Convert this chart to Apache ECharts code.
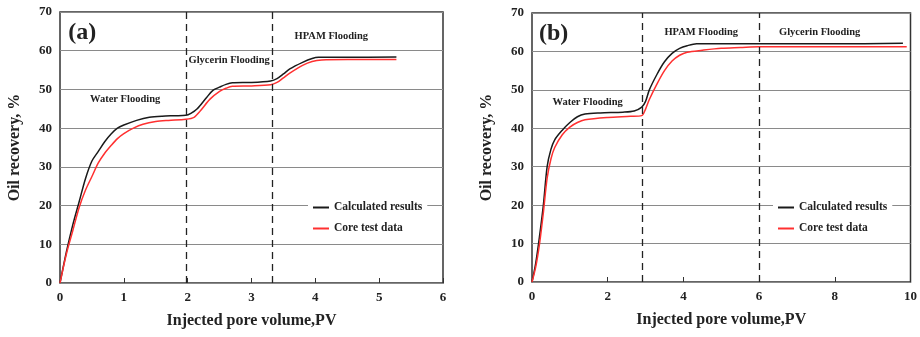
<!DOCTYPE html>
<html><head><meta charset="utf-8">
<script src="https://cdn.jsdelivr.net/npm/echarts@6/dist/echarts.min.js"></script>
<style>html,body{margin:0;padding:0;background:#fff}#c{width:920px;height:337px}</style>
</head><body><div id="c"></div>
<script>
// Panel (a)
var aCalcX = [0,0.1,0.2,0.3,0.4,0.5,0.6,0.7,0.8,0.9,1.0,1.2,1.4,1.6,1.8,1.97,2.05,2.15,2.3,2.4,2.5,2.6,2.7,3.0,3.3,3.4,3.5,3.6,3.8,3.95,4.05,4.5,5.27];
var aCalcY = [0,8,15,21,27,31.5,34,36.5,38.5,40,40.8,42,42.8,43.1,43.2,43.3,43.8,45,48,49.8,50.6,51.3,51.7,51.8,52.2,52.8,54,55.3,57,58,58.3,58.3,58.4];
var aCoreX = [0,0.1,0.2,0.3,0.4,0.5,0.6,0.7,0.8,0.9,1.0,1.15,1.3,1.5,1.7,1.97,2.1,2.2,2.35,2.5,2.6,2.7,3.0,3.3,3.4,3.5,3.6,3.8,3.95,4.1,4.5,5.27];
var aCoreY = [0,7.5,13.5,19.5,24,27.5,31,33.5,35.5,37.3,38.6,40,41,41.7,42,42.3,42.8,44.5,47.5,49.5,50.3,50.8,50.9,51.2,51.8,53,54.2,56.2,57.2,57.6,57.7,57.7];
var aStages = [1.97, 3.33];
var aTicks = {min:0, max:6, interval:1};
// Panel (b)
var bCalcX = [0,0.1,0.2,0.3,0.4,0.5,0.6,0.8,1.0,1.2,1.4,1.8,2.4,2.7,2.9,3.0,3.1,3.3,3.5,3.7,3.9,4.1,4.35,5,6,8,9.8];
var bCalcY = [0,5,12,20,30,34.5,37,39.5,41.5,43,43.7,44,44.2,44.5,45.5,47,50,54,57.3,59.5,60.8,61.5,62,62,62,62,62.1];
var bCoreX = [0,0.1,0.2,0.3,0.4,0.5,0.6,0.8,1.0,1.2,1.4,2.0,2.6,2.9,3.0,3.1,3.3,3.5,3.7,3.9,4.1,4.5,5,5.5,6,8,9.9];
var bCoreY = [0,4,10,18,27,32,35,38.3,40.3,41.5,42.2,42.8,43.1,43.3,45,47.5,51.5,55,57.5,59,59.8,60.3,60.8,61,61.2,61.2,61.2];
var bStages = [2.9, 6.0];
var bTicks = {min:0, max:10, interval:2};
var yTicks = {min:0, max:70, interval:10};
var aNotes = [['(a)',0.35,64.6,'big'],['Water Flooding',1.02,47.5],['Glycerin Flooding',2.65,57.6],['HPAM Flooding',4.25,63.6]];
var bNotes = [['(b)',0.57,64.6,'big'],['Water Flooding',1.47,46.8],['HPAM Flooding',4.47,65],['Glycerin Flooding',7.6,65]];
var seriesNames = ['Calculated results','Core test data'];

function zip(x,y){return x.map(function(v,i){return [v,y[i]];});}
var FONT = '"Liberation Serif","DejaVu Serif",serif';

function xAx(idx,t){return {type:'value',gridIndex:idx,min:t.min,max:t.max,interval:t.interval,
  name:'Injected pore volume,PV',nameLocation:'middle',nameGap:30,
  nameTextStyle:{fontFamily:FONT,fontWeight:'bold',fontSize:16,color:'#222'},
  axisLine:{show:false},axisTick:{show:true,inside:true,length:5,lineStyle:{color:'#333'}},
  axisLabel:{fontFamily:FONT,fontWeight:'bold',fontSize:13,color:'#222',margin:8},
  splitLine:{show:false}};}
function yAx(idx){return {type:'value',gridIndex:idx,min:yTicks.min,max:yTicks.max,interval:yTicks.interval,
  name:'Oil recovery, %',nameLocation:'middle',nameGap:37,nameRotate:90,
  nameTextStyle:{fontFamily:FONT,fontWeight:'bold',fontSize:16,color:'#222'},
  axisLine:{show:false},axisTick:{show:false},
  axisLabel:{fontFamily:FONT,fontWeight:'bold',fontSize:13,color:'#222',margin:8},
  splitLine:{show:true,lineStyle:{color:'#8a8a8a',width:1}}};}
function notes(list){return {symbol:'circle',symbolSize:0,silent:true,
  data:list.map(function(n){return {name:n[0],coord:[n[1],n[2]],
    label:{show:true,position:'inside',formatter:'{b}',fontFamily:FONT,fontWeight:'bold',
      fontSize:n[3]?24:10.5,color:'#222'}};})};}
function mk(idx,name,x,y,color,extra){var s={type:'line',name:name,xAxisIndex:idx,yAxisIndex:idx,
  data:zip(x,y),symbol:'none',smooth:0.3,
  lineStyle:{color:color,width:1.5},itemStyle:{color:color},z:3};
  if(extra){for(var k in extra)s[k]=extra[k];}return s;}
function stageLines(v){return {symbol:'none',silent:true,label:{show:false},
  lineStyle:{color:'#222',type:[7,5],width:1.3},data:v.map(function(x){return {xAxis:x};})};}
function legend(idx,left){return {data:seriesNames.map(function(n){return {name:n,icon:'rect'};}),
  orient:'vertical',left:left,top:198,
  padding:[3,5],itemWidth:16,itemHeight:2,itemGap:8,backgroundColor:'#fff',
  textStyle:{fontFamily:FONT,fontWeight:'bold',fontSize:11.5,color:'#222',lineHeight:13},
  selectedMode:false};}

var chart = echarts.init(document.getElementById('c'),null,{renderer:'canvas'});
chart.setOption({
  animation:false,
  backgroundColor:'#fff',
  grid:[
    {left:60,right:477,top:12,bottom:54,show:true,borderColor:'#333',borderWidth:1.5,backgroundColor:'transparent'},
    {left:532,right:8,top:13,bottom:55,show:true,borderColor:'#333',borderWidth:1.5,backgroundColor:'transparent'}
  ],
  xAxis:[xAx(0,aTicks),xAx(1,bTicks)],
  yAxis:[yAx(0),yAx(1)],
  legend:[legend(0,308),legend(1,773)],
  series:[
    mk(0,seriesNames[0],aCalcX,aCalcY,'#1a1a1a',{markLine:stageLines(aStages),markPoint:notes(aNotes)}),
    mk(0,seriesNames[1],aCoreX,aCoreY,'#ff3030'),
    mk(1,seriesNames[0],bCalcX,bCalcY,'#1a1a1a',{markLine:stageLines(bStages),markPoint:notes(bNotes)}),
    mk(1,seriesNames[1],bCoreX,bCoreY,'#ff3030')
  ]
});
</script></body></html>
